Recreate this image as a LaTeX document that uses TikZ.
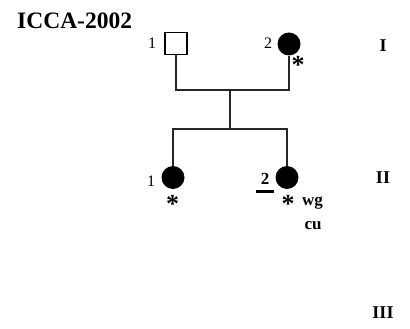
\documentclass[tikz,border=0pt]{standalone}
\usepackage{fontspec}
\setmainfont{Liberation Serif}
\begin{document}
\begin{tikzpicture}[x=1pt,y=-1pt,
  line/.style={line width=1.1pt, black!85},
  male/.style={draw, line width=1.1pt, minimum size=22pt, inner sep=0pt, fill=white},
  fem/.style={circle, fill=black, minimum size=23pt, inner sep=0pt},
  num/.style={font=\fontsize{16}{16}\selectfont, inner sep=0pt},
  gen/.style={font=\fontsize{18}{18}\selectfont\bfseries, inner sep=0pt},
  star/.style={font=\fontsize{26}{26}\selectfont\bfseries, inner sep=0pt},
  note/.style={font=\fontsize{17}{17}\selectfont\bfseries, inner sep=0pt}]
\useasboundingbox (0,0) rectangle (410,329);
\node[font=\fontsize{23.5}{23.5}\selectfont\bfseries, anchor=west, inner sep=0pt] (title) at (17,21) {ICCA-2002};
% generation I
\node[male] (m1) at (176,43.5) {};
\node[fem] (f2) at (289,44) {};
\node[num] (l1) at (152,43) {1};
\node[num] (l2) at (268,43) {2};
\node[star] (s2) at (298,65) {*};
\node[gen] (gI) at (383,46) {I};
% connectors
\coordinate (mar) at (230,90);
\coordinate (sib) at (230,129);
\draw[line] (m1.south) |- (mar) -| (f2.south);
\draw[line] (mar) -- (sib);
% generation II
\node[fem] (c1) at (173,177.5) {};
\node[fem] (c2) at (287,177.5) {};
\draw[line] (c1.north) |- (sib) -| (c2.north);
\node[num] (k1) at (151,181) {1};
\node[star] (s3) at (172.5,204) {*};
\node[num, font=\fontsize{17}{17}\selectfont\bfseries] (k2) at (265,179) {2};
\node[fill=black, minimum width=18pt, minimum height=3pt, inner sep=0pt] (bar) at (265,191) {};
\node[star] (s4) at (288,203.5) {*};
\node[note] (wg) at (312.5,203) {wg};
\node[note] (cu) at (313,226) {cu};
\node[gen] (gII) at (383,178) {II};
\node[gen] (gIII) at (383,313) {III};
\end{tikzpicture}
\end{document}
